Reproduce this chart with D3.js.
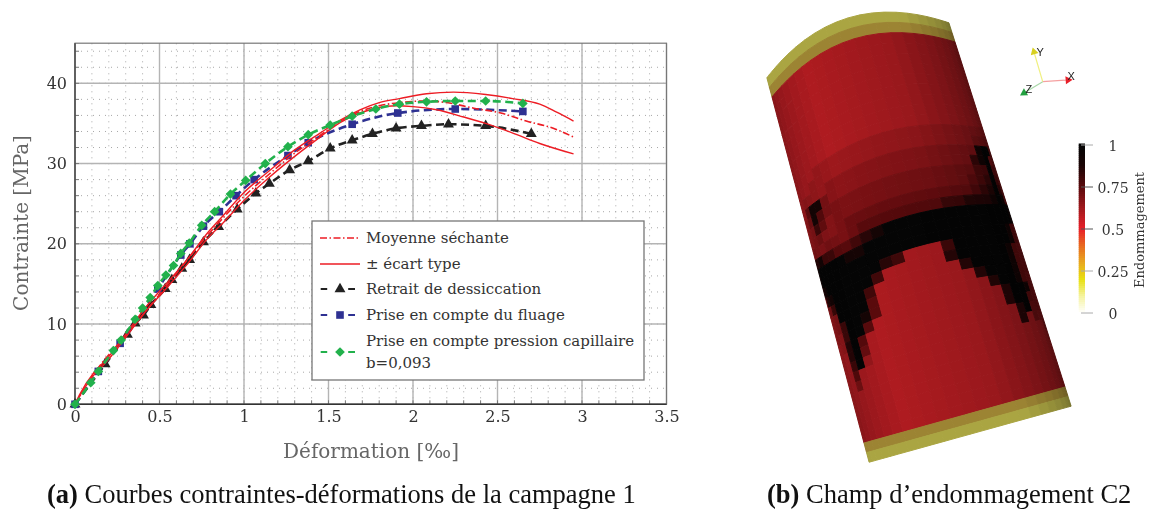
<!DOCTYPE html>
<html><head><meta charset="utf-8">
<script src="https://cdn.jsdelivr.net/npm/d3@7"></script>
<style>html,body{margin:0;padding:0;background:#fff}svg{display:block;filter:blur(0.35px)}text{font-family:"DejaVu Serif",serif}</style>
</head><body><svg id="c" width="1151" height="509"></svg>
<script>
// ---- data -----
const xTicks=[0,0.5,1,1.5,2,2.5,3,3.5];
const yTicks=[0,10,20,30,40];
const xMinor=d3.range(0,3.5001,0.1);
const yMinor=d3.range(0,45.001,2);
const upperX=[0,0.03,0.11,0.178,0.306,0.415,0.543,0.662,0.79,0.88,1.0,1.15,1.3,1.45,1.568,1.686,1.8,1.92,2.08,2.24,2.43,2.59,2.75,2.85,2.95];
const upperY=[0,1.3,3.9,5.4,8.9,12,15.1,18,21.5,23.6,26.4,29.1,31.7,33.8,35.4,36.7,37.6,38.1,38.7,38.9,38.6,38.1,37.4,36.4,35.3];
const lowerX=[0,0.03,0.11,0.178,0.306,0.415,0.543,0.662,0.79,0.88,1.0,1.15,1.3,1.45,1.568,1.686,1.785,1.9,2.0,2.14,2.3,2.43,2.59,2.75,2.95];
const lowerY=[0,1.1,3.6,5.1,8.5,11.5,14.5,17.4,20.8,22.7,25.4,28.3,30.9,33.3,35.1,36.3,36.9,37.2,37.1,36.7,35.8,35,33.8,32.5,31.2];
const meanX=[0,0.11,0.306,0.543,0.79,1.0,1.15,1.3,1.45,1.568,1.686,1.8,1.92,2.08,2.2,2.36,2.52,2.67,2.83,2.95];
const meanY=[0,3.75,8.7,14.8,21.2,25.9,28.7,31.3,33.5,35.25,36.5,37.2,37.6,37.8,37.6,36.9,36.3,35.3,34.4,33.3];
const shrinkX=[0,0.178,0.31,0.356,0.405,0.449,0.534,0.573,0.632,0.678,0.76,0.85,0.96,1.07,1.15,1.27,1.38,1.51,1.64,1.76,1.9,2.05,2.21,2.43,2.7];
const shrinkY=[0,5,8.7,10.1,11.1,12.4,14.4,15.5,16.9,18,20.2,22.1,24.3,26.3,27.5,29.2,30.3,31.9,32.9,33.7,34.4,34.7,34.9,34.7,33.7];
const creepX=[0,0.138,0.267,0.49,0.626,0.68,0.76,0.854,0.953,1.06,1.26,1.38,1.64,1.91,2.25,2.65];
const creepY=[0,4.1,7.6,14.4,18.6,20,22.2,24,26,28,31,32.6,34.9,36.3,36.8,36.5];
const capX=[0,0.093,0.138,0.227,0.273,0.356,0.4,0.445,0.49,0.538,0.583,0.626,0.676,0.75,0.826,0.92,1.01,1.126,1.26,1.38,1.51,1.64,1.78,1.92,2.08,2.25,2.43,2.65];
const capY=[0,2.7,4.1,6.7,8,10.6,12,13.3,14.8,16.1,17.3,18.8,20.1,22.3,24,26.2,27.9,30,32.1,33.6,34.8,35.9,36.8,37.4,37.7,37.8,37.8,37.5];
const legendLabels=["Moyenne séchante","± écart type","Retrait de dessiccation","Prise en compte du fluage","Prise en compte pression capillaire","b=0,093"];
const captionA=["(a)"," Courbes contraintes-déformations de la campagne 1"];
const captionB=["(b)"," Champ d’endommagement C2"];
const cbTicks=[0,0.25,0.5,0.75,1];
// damage mesh: a,b = end rings; digit = damage level
const damageLevels=[0.6,0.63,0.66,0.69,0.72,0.75,0.8,0.85,0.9,1];
const meshRows=[
"aaaaaaaaaaaaaaaaaaaaaaaa",
"bbbbbbbbbbbbbbbbbbbbbbbb",
"000000000000000000000000",
"000000000000000000000000",
"000000000000000000000000",
"000000000000000000000000",
"000000000000000000000000",
"000000000000000000000000",
"000000000000000000000000",
"000000000000000000000000",
"000000000000000000000000",
"000001111111111111111111",
"000011111111111111112222",
"001111222222222222228993",
"004883222222222222268923",
"013853333333333333355943",
"012642333333333333456953",
"112322344444444444567963",
"122233345555555667778983",
"778665567899999999999998",
"899999889999999999999998",
"899999999999999999999843",
"789999999760006999999843",
"278999996000007999998432",
"126999960000000799998433",
"012999950000000079998433",
"012699850000000007998432",
"011699500000000000799832",
"001795000000000000799432",
"000794000000000000079332",
"000691000000000000070322",
"000500000000000000000002",
"000300000000000000000001",
"000000000000000000000000",
"000000000000000000000000",
"000000000000000000000000",
"000000000000000000000000",
"000000000000000000000000",
"bbbbbbbbbbbbbbbbbbbbbbbb",
"aaaaaaaaaaaaaaaaaaaaaaaa"];
const ringColors={a:"#aaa542",b:"#9c8433"};

// ---- chart -----
const svg=d3.select("#c");
const x=d3.scaleLinear().domain([0,3.5]).range([75,666.5]);
const y=d3.scaleLinear().domain([0,45]).range([404.3,43.2]);
const g=svg.append("g");
xMinor.forEach(v=>g.append("line").attr("x1",x(v)).attr("x2",x(v)).attr("y1",y(0)).attr("y2",y(45)).attr("stroke","#a8a8a8").attr("stroke-width",1).attr("stroke-dasharray","1 5"));
yMinor.forEach(v=>g.append("line").attr("y1",y(v)).attr("y2",y(v)).attr("x1",x(0)).attr("x2",x(3.5)).attr("stroke","#a8a8a8").attr("stroke-width",1).attr("stroke-dasharray","1 5"));
xTicks.forEach(v=>g.append("line").attr("x1",x(v)).attr("x2",x(v)).attr("y1",y(0)).attr("y2",y(45)).attr("stroke","#b4b4b4").attr("stroke-width",1.4));
yTicks.forEach(v=>g.append("line").attr("y1",y(v)).attr("y2",y(v)).attr("x1",x(0)).attr("x2",x(3.5)).attr("stroke","#b4b4b4").attr("stroke-width",1.4));
xMinor.forEach(v=>g.append("line").attr("x1",x(v)).attr("x2",x(v)).attr("y1",y(0)).attr("y2",y(0)-4).attr("stroke","#777"));
yMinor.forEach(v=>g.append("line").attr("y1",y(v)).attr("y2",y(v)).attr("x1",x(0)).attr("x2",x(0)+4).attr("stroke","#777"));
g.append("rect").attr("x",x(0)).attr("y",y(45)).attr("width",x(3.5)-x(0)).attr("height",y(0)-y(45)).attr("fill","none").attr("stroke","#777").attr("stroke-width",1.2);
g.append("line").attr("x1",x(0)).attr("x2",x(3.5)).attr("y1",y(0)).attr("y2",y(0)).attr("stroke","#333").attr("stroke-width",1.4);
g.append("line").attr("x1",x(0)).attr("x2",x(0)).attr("y1",y(0)).attr("y2",y(45)).attr("stroke","#444").attr("stroke-width",1.3);

const ax=svg.append("g").attr("transform",`translate(0,${y(0)})`).call(d3.axisBottom(x).tickValues(xTicks).tickFormat(d3.format("~g")).tickSize(0).tickPadding(6));
const ay=svg.append("g").attr("transform",`translate(${x(0)},0)`).call(d3.axisLeft(y).tickValues(yTicks).tickFormat(d3.format("d")).tickSize(0).tickPadding(8));
[ax,ay].forEach(a=>{a.select(".domain").remove();a.selectAll("text").attr("font-size",16).attr("fill","#333").style("font-family",'"DejaVu Serif",serif');});

svg.append("text").attr("x",371).attr("y",458).attr("text-anchor","middle").attr("font-size",20).attr("fill","#666").text("Déformation [‰]");
svg.append("text").attr("transform","translate(28,223) rotate(-90)").attr("text-anchor","middle").attr("font-size",20).attr("fill","#666").text("Contrainte [MPa]");

const line=d3.line().x(d=>x(d[0])).y(d=>y(d[1])).curve(d3.curveMonotoneX);
const zip=(a,b)=>a.map((v,i)=>[v,b[i]]);
const red="#ed1c24",blk="#222",blu="#2e3192",grn="#22b14c";
const drawLine=(pts,c,w,dash)=>svg.append("path").attr("d",line(pts)).attr("fill","none").attr("stroke",c).attr("stroke-width",w).attr("stroke-dasharray",dash);
const drawMarks=(pts,c,sym,size)=>svg.append("g").selectAll("path").data(pts).join("path").attr("transform",d=>`translate(${x(d[0])},${y(d[1])})`).attr("d",d3.symbol().type(sym).size(size)).attr("fill",c);
drawLine(zip(shrinkX,shrinkY),blk,2.6,"8 4.5");drawMarks(zip(shrinkX,shrinkY),blk,d3.symbolTriangle,52);
drawLine(zip(creepX,creepY),blu,2.6,"8 4.5");drawMarks(zip(creepX,creepY),blu,d3.symbolSquare,58);
drawLine(zip(meanX,meanY),red,1.6,"7 2.5 1.5 2.5");
drawLine(zip(upperX,upperY),red,1.4,null);
drawLine(zip(lowerX,lowerY),red,1.4,null);
drawLine(zip(capX,capY),grn,2.6,"8 4.5");drawMarks(zip(capX,capY),grn,d3.symbolDiamond2,60);

// legend
const lg=svg.append("g");
lg.append("rect").attr("x",312).attr("y",221).attr("width",332).attr("height",159).attr("fill","#fff").attr("stroke","#777").attr("stroke-width",1.3);
const ly=[238,264,289,315,341,363];
legendLabels.forEach((t,i)=>lg.append("text").attr("x",366).attr("y",ly[i]+5).attr("font-size",15).attr("fill","#333").text(t));
const sample=(yy,c,w,dash)=>lg.append("line").attr("x1",320).attr("x2",360).attr("y1",yy).attr("y2",yy).attr("stroke",c).attr("stroke-width",w).attr("stroke-dasharray",dash);
sample(ly[0],red,1.5,"7 2.5 1.5 2.5");sample(ly[1],red,1.4,null);
[[289,blk,d3.symbolTriangle,52],[315,blu,d3.symbolSquare,58],[352,grn,d3.symbolDiamond2,60]].forEach(([yy,c,s,z])=>{
  lg.append("line").attr("x1",320.7).attr("x2",355).attr("y1",yy).attr("y2",yy).attr("stroke",c).attr("stroke-width",2.2).attr("stroke-dasharray","6.5 21 7");
  lg.append("path").attr("transform",`translate(340,${yy})`).attr("d",d3.symbol().type(s).size(z)).attr("fill",c);
});

// captions
[[47,captionA],[767,captionB]].forEach(([xx,c])=>{
  const t=svg.append("text").attr("x",xx).attr("y",503).attr("font-size",26.5).attr("fill","#111").style("font-family",'"Liberation Serif",serif');
  t.append("tspan").attr("font-weight","bold").text(c[0]);t.append("tspan").text(c[1]);
});

// ---- damage field -----
const cmap=d3.scaleLinear().domain([0,0.1,0.2,0.3,0.4,0.5,0.6,0.75,0.88,1])
 .range(["#ffffff","#f5f3a0","#e8e010","#e8a820","#e86a20","#e81f28","#ae1b20","#5a0a0c","#1a0505","#050505"]);
const shade=d3.scaleLinear().domain([0,7,14,23]).range([0.76,1,0.88,0.5]);
const nCols=meshRows[0].length,nRows=meshRows.length;
const rowV=d3.scaleLinear().domain([2,nRows-2]).range([0,1]);
const leftX=d3.scaleLinear().domain([0,1]).range([772,864]),leftY=d3.scaleLinear().domain([0,1]).range([97,443]);
const rightX=d3.scaleLinear().domain([0,1]).range([955,1065]),rightY=d3.scaleLinear().domain([0,1]).range([42,387]);
const surf=(c,r)=>{
  const u=(1-Math.cos(Math.PI*c/nCols))/2,v=rowV(r);
  const bow=32*Math.max(1-v,0)*4*u*(1-u);
  const px=leftX(v)+(rightX(v)-leftX(v))*u, py=leftY(v)+(rightY(v)-leftY(v))*u;
  return [px-0.29*bow,py-0.96*bow];
};
const cells=[];
meshRows.forEach((s,r)=>s.split("").forEach((ch,c)=>cells.push({r,c,ch})));
svg.append("g").selectAll("path").data(cells).join("path")
 .attr("d",d=>"M"+[surf(d.c,d.r),surf(d.c+1,d.r),surf(d.c+1,d.r+1),surf(d.c,d.r+1)].map(p=>p.join(",")).join("L")+"Z")
 .each(function(d){
   const base=ringColors[d.ch]?d3.rgb(ringColors[d.ch]):d3.rgb(cmap(damageLevels[+d.ch]));
   const k=ringColors[d.ch]?Math.min(1,shade(d.c)+0.2):shade(d.c);
   const col=d3.rgb(base.r*k,base.g*k,base.b*k);
   d3.select(this).attr("fill",col).attr("stroke",col).attr("stroke-width",1);
 });

// triad
const triad=[["X",1068,80,"#e8202a","#f5a0a0",1071,80],["Y",1034,52,"#d8d020","#f0f080",1040,56],["Z",1024,93,"#22a040","#a8d8a8",1029,93]];
const to=[1042.7,81.7];
triad.forEach(([n,ex,ey,c,lc,tx,ty])=>{
  svg.append("line").attr("x1",to[0]).attr("y1",to[1]).attr("x2",ex).attr("y2",ey).attr("stroke",lc).attr("stroke-width",1.2);
  const ang=Math.atan2(ey-to[1],ex-to[0])*180/Math.PI+90;
  svg.append("path").attr("transform",`translate(${ex},${ey}) rotate(${ang})`).attr("d",d3.symbol().type(d3.symbolTriangle).size(28)).attr("fill",c);
  svg.append("text").attr("x",tx-3.5).attr("y",ty).attr("font-size",11).attr("fill","#222").style("font-family",'"Liberation Sans",sans-serif').text(n);
});

// colorbar
const cy=d3.scaleLinear().domain([0,1]).range([313,145]);
const cbSteps=d3.range(0,1.0001,1/84);
svg.append("g").selectAll("rect").data(cbSteps).join("rect").attr("x",1078.7).attr("width",6.3).attr("y",d=>cy(d)-1.5).attr("height",2.5).attr("fill",d=>cmap(d));
cbTicks.forEach(t=>{
  svg.append("line").attr("x1",1081).attr("x2",1093).attr("y1",cy(t)).attr("y2",cy(t)).attr("stroke",t==0||t==1||t==.25?"#aaa":"#555").attr("stroke-width",1);
  svg.append("text").attr("x",1113).attr("y",cy(t)+5.5).attr("text-anchor","middle").attr("font-size",14).attr("fill","#333").text(d3.format("~g")(t));
});
svg.append("text").attr("transform","translate(1144,230) rotate(-90)").attr("text-anchor","middle").attr("font-size",13).attr("fill","#333").text("Endommagement");
</script></body></html>
